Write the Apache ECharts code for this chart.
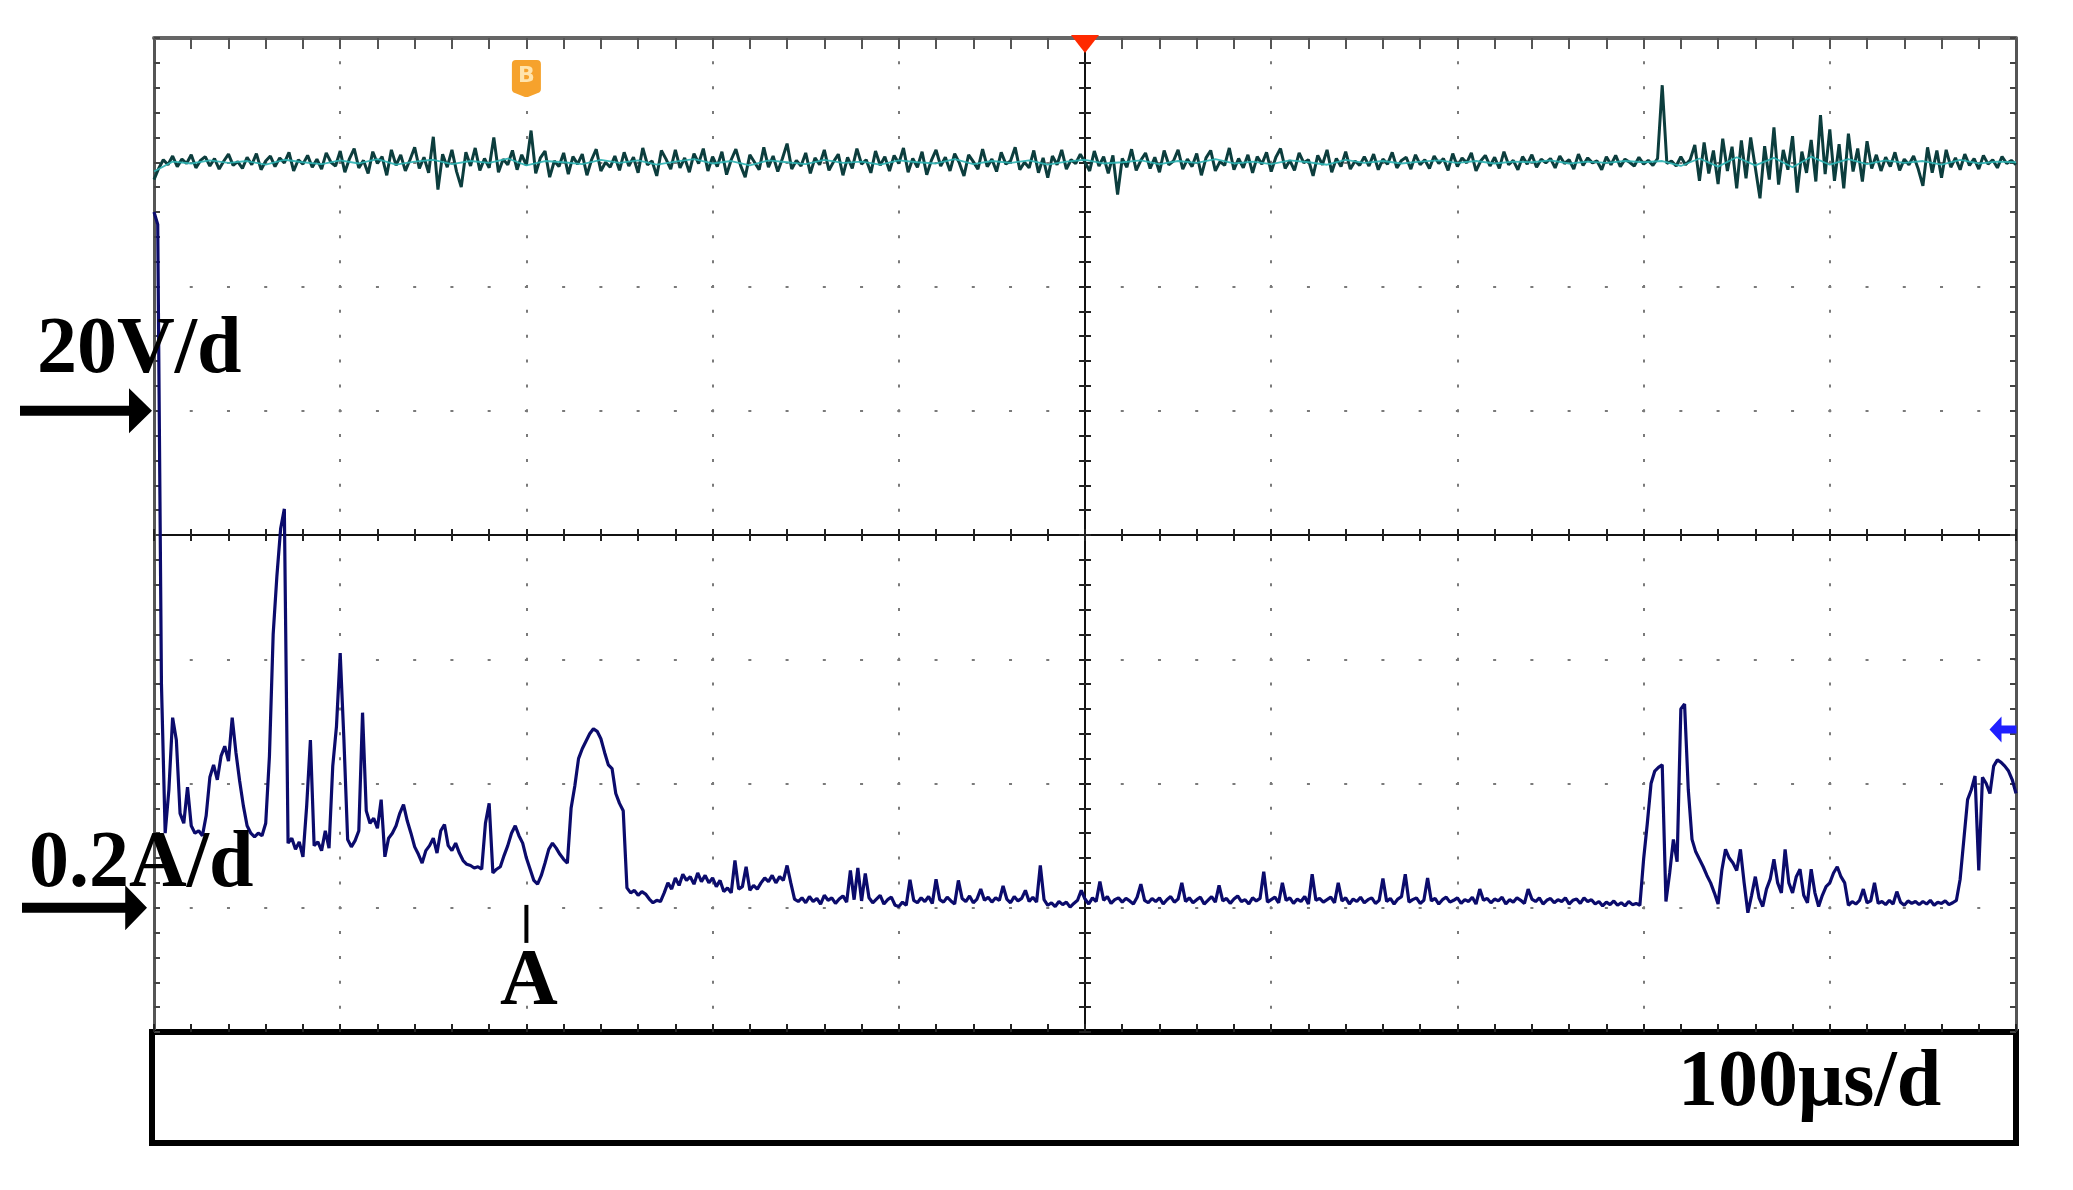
<!DOCTYPE html>
<html>
<head>
<meta charset="utf-8">
<script src="https://cdn.jsdelivr.net/npm/echarts/dist/echarts.min.js"></script>
<style>
  html, body { margin: 0; padding: 0; background: #fff; }
  #chart { width: 2073px; height: 1190px; }
</style>
</head>
<body>
<div id="chart"></div>
<script>
// ---------------- DATA ----------------
// time axis: 10 divisions, 100 us/div
const timeRange = [0, 1000];          // us
const timeTickStep = 100;             // us per division
// channel scales
const voltRange = [-100, 60];         // V  (20 V/div, zero 3 div below top)
const voltTickStep = 20;
const currRange = [-0.2, 1.4];        // A  (0.2 A/div, zero 1 div above bottom)
const currTickStep = 0.2;
const scaleLabels = ['20V/d', '0.2A/d', '100μs/d'];
const markerLabels = ['A', 'B'];

// Voltage trace (V), sampled every 2.5 us from 0 to 1000 us
const voltSampleStep = 2.5;
const voltageValues = [
  37.2, 39.0, 40.4, 39.6, 41.0, 39.3, 40.5, 39.8, 41.2, 39.1,
  40.3, 40.9, 39.4, 40.6, 38.9, 40.2, 41.3, 39.5, 40.1, 39.0,
  40.8, 39.6, 41.4, 38.8, 40.2, 41.0, 39.3, 40.7, 39.9, 41.6,
  38.6, 40.4, 39.7, 41.1, 39.2, 40.5, 38.9, 41.5, 40.0, 39.4,
  41.8, 38.4, 40.6, 42.2, 39.1, 40.3, 38.2, 41.7, 39.8, 40.9,
  37.9, 42.0, 39.5, 41.2, 38.6, 40.4, 42.4, 39.0, 40.8, 38.3,
  44.1, 35.6, 41.3, 39.2, 42.0, 38.5, 36.0, 41.6, 39.4, 42.3,
  38.7, 40.6, 39.1, 44.0, 38.4, 40.5, 39.6, 41.9, 38.8, 41.2,
  39.5, 45.1, 38.2, 40.7, 41.8, 37.6, 40.2, 39.3, 41.5, 38.1,
  40.9, 39.7, 41.3, 37.9, 40.4, 42.1, 38.6, 40.0, 39.2, 41.0,
  38.7, 41.6, 39.4, 40.8, 38.3, 42.3, 39.6, 40.2, 37.8, 41.9,
  40.5, 38.9, 42.0, 39.1, 40.7, 38.4, 41.4, 39.8, 42.2, 38.6,
  40.9, 39.3, 41.7, 38.0, 40.4, 42.1, 39.5, 37.6, 41.2, 40.0,
  38.8, 42.4, 39.2, 41.0, 38.5, 40.6, 43.0, 38.9, 40.3, 39.4,
  41.5, 38.2, 40.7, 39.6, 42.0, 38.7, 40.1, 41.3, 37.9, 40.8,
  39.0, 42.2, 39.7, 40.4, 38.3, 41.8, 39.5, 40.9, 38.6, 41.1,
  39.8, 42.3, 38.4, 40.6, 39.2, 41.7, 38.0, 40.3, 42.0, 39.4,
  40.8, 38.6, 41.4, 39.9, 37.8, 41.2, 40.1, 38.9, 42.1, 39.3,
  40.5, 38.5, 41.6, 39.7, 40.2, 42.4, 38.8, 40.0, 39.1, 41.9,
  38.3, 40.7, 37.5, 41.0, 39.6, 42.0, 38.9, 40.4, 39.8, 41.3,
  40.0, 38.6, 41.8, 39.4, 40.9, 38.2, 41.1, 34.8, 40.6, 39.2,
  42.1, 38.7, 40.3, 41.5, 39.0, 40.8, 38.4, 41.9, 39.6, 40.2,
  42.0, 38.9, 40.5, 39.3, 41.4, 37.9, 40.7, 41.9, 38.6, 40.1,
  39.5, 42.3, 38.8, 40.6, 39.1, 41.2, 38.3, 40.9, 39.7, 41.6,
  38.5, 40.8, 42.2, 39.0, 40.3, 38.7, 41.5, 39.9, 40.4, 37.8,
  41.1, 39.6, 42.0, 38.4, 40.6, 39.3, 41.7, 38.9, 40.2, 39.5,
  40.9, 39.4, 41.3, 38.8, 40.5, 39.7, 41.6, 39.1, 40.3, 40.8,
  38.9, 41.2, 39.6, 40.4, 39.0, 41.0, 39.8, 40.6, 38.7, 41.4,
  39.3, 40.7, 39.9, 41.5, 38.6, 40.2, 41.1, 39.4, 40.8, 39.0,
  41.7, 39.6, 40.3, 38.8, 40.9, 39.7, 41.2, 39.2, 40.5, 39.9,
  40.6, 39.1, 41.0, 39.8, 40.4, 38.9, 41.3, 39.5, 40.7, 39.9,
  40.2, 38.8, 40.9, 39.6, 41.1, 39.3, 40.5, 40.0, 39.4, 40.8,
  39.7, 40.3, 39.5, 40.6, 52.4, 39.8, 40.2, 39.4, 40.9, 39.6,
  40.4, 42.8, 37.0, 43.2, 38.2, 41.9, 36.5, 43.8, 38.6, 42.5,
  35.8, 43.5, 37.4, 44.0, 39.1, 34.2, 42.6, 37.2, 45.6, 36.4,
  42.0, 38.8, 44.2, 35.1, 41.7, 38.3, 43.6, 36.9, 47.6, 38.1,
  45.3, 37.0, 42.9, 35.8, 44.6, 38.5, 42.2, 36.9, 43.4, 39.0,
  41.2, 38.6, 40.8, 39.3, 41.6, 38.7, 40.5, 39.6, 41.0, 38.9,
  36.2, 42.4, 38.3, 41.9, 37.5, 42.0, 39.2, 40.7, 38.8, 41.3,
  39.5, 40.6, 38.9, 41.1, 39.7, 40.4, 39.1, 40.9, 39.8, 40.3,
  39.6
];

// Lighter (cyan) core of the voltage band, every 10 us
const voltCoreStep = 10;
const voltageCoreValues = [
  38.5, 40.1, 39.8, 40.3, 39.9, 40.2, 39.6, 40.4, 40.0, 39.7,
  40.3, 39.8, 40.5, 39.6, 40.1, 40.4, 39.7, 40.2, 39.9, 40.6,
  39.5, 40.2, 40.0, 39.7, 40.4, 39.9, 40.3, 39.6, 40.1, 40.5,
  39.8, 40.2, 39.5, 40.3, 40.0, 39.7, 40.4, 39.9, 40.1, 39.6,
  40.3, 40.0, 39.8, 40.5, 39.7, 40.2, 39.9, 40.3, 39.6, 40.1,
  40.4, 39.8, 40.0, 40.3, 39.7, 40.2, 39.9, 40.5, 39.8, 40.1,
  39.7, 40.3, 40.0, 39.6, 40.4, 39.9, 40.2, 39.8, 40.1, 40.3,
  39.9, 40.2, 39.8, 40.1, 40.0, 40.3, 39.8, 40.1, 39.9, 40.2,
  40.0, 40.2, 39.4, 40.6, 39.3, 40.8, 39.5, 40.7, 39.2, 40.9,
  39.6, 40.5, 39.7, 40.3, 39.9, 40.2, 39.6, 40.4, 39.8, 40.1,
  40.0
];

// Current trace (A), sampled every 2 us from 0 to 1000 us
const currSampleStep = 2;
const currentValues = [
  // 0 - 48
  1.12, 1.10, 0.36, 0.12, 0.19, 0.306, 0.27, 0.152, 0.136, 0.194, 0.132, 0.12, 0.124,
  0.116, 0.148, 0.21, 0.23, 0.206, 0.244, 0.26, 0.236, 0.306, 0.25, 0.204, 0.164,
  // 50 - 98
  0.132, 0.12, 0.114, 0.12, 0.116, 0.136, 0.244, 0.44, 0.534, 0.61, 0.642, 0.104, 0.112,
  0.094, 0.106, 0.082, 0.164, 0.27, 0.1, 0.106, 0.092, 0.124, 0.096, 0.228, 0.292,
  // 100 - 148
  0.41, 0.27, 0.11, 0.098, 0.108, 0.124, 0.314, 0.156, 0.136, 0.144, 0.128, 0.174, 0.082,
  0.112, 0.12, 0.132, 0.152, 0.166, 0.14, 0.12, 0.098, 0.086, 0.072, 0.092, 0.1,
  // 150 - 198
  0.112, 0.088, 0.124, 0.134, 0.1, 0.092, 0.104, 0.088, 0.076, 0.07, 0.068, 0.064, 0.066,
  0.062, 0.136, 0.168, 0.056, 0.062, 0.066, 0.084, 0.1, 0.12, 0.132, 0.116, 0.104,
  // 200 - 248
  0.08, 0.062, 0.044, 0.038, 0.052, 0.072, 0.094, 0.104, 0.096, 0.086, 0.078, 0.072, 0.16,
  0.196, 0.24, 0.256, 0.268, 0.28, 0.288, 0.284, 0.272, 0.25, 0.23, 0.224, 0.184,
  // 250 - 298
  0.168, 0.156, 0.032, 0.024, 0.028, 0.02, 0.026, 0.022, 0.014, 0.008, 0.012, 0.01, 0.024,
  0.04, 0.03, 0.048, 0.036, 0.054, 0.044, 0.05, 0.038, 0.056, 0.042, 0.052, 0.04,
  // 300 - 348
  0.048, 0.034, 0.044, 0.026, 0.032, 0.024, 0.076, 0.03, 0.034, 0.066, 0.028, 0.036, 0.03,
  0.04, 0.048, 0.042, 0.052, 0.04, 0.05, 0.044, 0.068, 0.04, 0.014, 0.01, 0.016,
  // 350 - 398
  0.008, 0.018, 0.01, 0.015, 0.006, 0.02, 0.012, 0.016, 0.007, 0.014, 0.019, 0.009, 0.06,
  0.013, 0.064, 0.011, 0.055, 0.016, 0.008, 0.014, 0.02, 0.006, 0.013, 0.017, 0.004,
  // 400 - 448
  0.002, 0.009, 0.004, 0.045, 0.012, 0.008, 0.016, 0.01, 0.018, 0.007, 0.046, 0.013, 0.009,
  0.017, 0.011, 0.006, 0.044, 0.015, 0.01, 0.019, 0.008, 0.014, 0.03, 0.012, 0.017,
  // 450 - 498
  0.009, 0.016, 0.012, 0.035, 0.014, 0.008, 0.018, 0.011, 0.015, 0.028, 0.01, 0.017, 0.009,
  0.068, 0.013, 0.004, 0.008, 0.002, 0.01, 0.005, 0.009, 0.001, 0.007, 0.012, 0.028,
  // 500 - 548
  0.014, 0.006, 0.016, 0.01, 0.042, 0.012, 0.018, 0.007, 0.013, 0.016, 0.009, 0.015, 0.011,
  0.006, 0.017, 0.038, 0.012, 0.008, 0.015, 0.01, 0.016, 0.006, 0.013, 0.018, 0.009,
  // 550 - 598
  0.014, 0.04, 0.01, 0.016, 0.008, 0.013, 0.017, 0.006, 0.012, 0.018, 0.009, 0.036, 0.011,
  0.015, 0.007, 0.014, 0.019, 0.01, 0.013, 0.006, 0.016, 0.011, 0.015, 0.058, 0.009,
  // 600 - 648
  0.013, 0.017, 0.008, 0.04, 0.012, 0.016, 0.007, 0.014, 0.01, 0.018, 0.006, 0.054, 0.012,
  0.015, 0.009, 0.013, 0.017, 0.008, 0.04, 0.011, 0.016, 0.006, 0.014, 0.01, 0.017,
  // 650 - 698
  0.008, 0.013, 0.016, 0.007, 0.012, 0.047, 0.01, 0.015, 0.006, 0.014, 0.018, 0.054, 0.009,
  0.013, 0.016, 0.007, 0.012, 0.048, 0.011, 0.015, 0.006, 0.013, 0.017, 0.009, 0.012,
  // 700 - 748
  0.016, 0.007, 0.013, 0.01, 0.017, 0.006, 0.03, 0.012, 0.015, 0.008, 0.014, 0.011, 0.017,
  0.006, 0.013, 0.009, 0.016, 0.012, 0.007, 0.03, 0.014, 0.01, 0.016, 0.006, 0.012,
  // 750 - 798
  0.015, 0.008, 0.013, 0.01, 0.016, 0.006, 0.012, 0.014, 0.007, 0.016, 0.01, 0.013, 0.006,
  0.01, 0.003, 0.009, 0.005, 0.011, 0.004, 0.008, 0.003, 0.01, 0.005, 0.007, 0.004,
  // 800 - 848
  0.078, 0.136, 0.2, 0.22, 0.226, 0.23, 0.01, 0.056, 0.11, 0.074, 0.32, 0.328, 0.19,
  0.11, 0.09, 0.078, 0.066, 0.052, 0.04, 0.024, 0.006, 0.06, 0.094, 0.08, 0.072,
  // 850 - 898
  0.06, 0.094, 0.04, -0.008, 0.02, 0.05, 0.016, 0.002, 0.03, 0.046, 0.078, 0.04, 0.024,
  0.094, 0.04, 0.024, 0.05, 0.062, 0.02, 0.008, 0.062, 0.024, 0.002, 0.02, 0.034,
  // 900 - 948
  0.04, 0.056, 0.066, 0.05, 0.04, 0.004, 0.01, 0.006, 0.012, 0.03, 0.008, 0.011, 0.04,
  0.007, 0.01, 0.005, 0.012, 0.006, 0.026, 0.009, 0.004, 0.011, 0.007, 0.01, 0.005,
  // 950 - 998
  0.01, 0.006, 0.012, 0.004, 0.009, 0.007, 0.011, 0.005, 0.008, 0.012, 0.046, 0.11, 0.174,
  0.19, 0.212, 0.06, 0.21, 0.2, 0.184, 0.228, 0.238, 0.234, 0.228, 0.22, 0.206,
  // 1000
  0.184
];

// marker positions (in data units)
const markerATime = 200;    // us
const markerBTime = 200;    // us
const triggerTime = 500;    // us

// ---------------- BUILD ----------------
const toPairs = (vals, step) => vals.map((v, i) => [i * step, v]);
const voltData = toPairs(voltageValues, voltSampleStep);
const voltCoreData = toPairs(voltageCoreValues, voltCoreStep);
const currData = toPairs(currentValues, currSampleStep);

const bigArrow = 'path://M0,17.5 L109,17.5 L109,0 L132,22.5 L109,45 L109,27.5 L0,27.5 Z';
const blueArrow = 'path://M0,13 L12,0 L12,9 L27,9 L27,17 L12,17 L12,26 Z';
const badge = 'path://M4,0 L25,0 Q29,0 29,4 L29,29 Q29,32 26,33 L16,37 L13,37 L3,33 Q0,32 0,29 L0,4 Q0,0 4,0 Z';

const hidden = { show: false };
const gridDotColor = '#7a7a7a';

const option = {
  animation: false,
  backgroundColor: '#ffffff',
  grid: [
    { left: 154, right: 57, top: 38, bottom: 158, containLabel: false, show: false },
    { left: 152, right: 57, top: 1032, height: 111, show: true, borderColor: '#000', borderWidth: 6, backgroundColor: 'rgba(0,0,0,0)' }
  ],
  xAxis: [
    { // 0: time axis, bottom border + dotted vertical grid
      type: 'value', gridIndex: 0, min: timeRange[0], max: timeRange[1], interval: timeTickStep, position: 'bottom',
      axisLine: { show: true, onZero: false, lineStyle: { color: '#000', width: 5 } },
      axisTick: { show: true, inside: true, length: 8, lineStyle: { color: '#222', width: 2 } },
      minorTick: { show: true, splitNumber: 5, length: 8, lineStyle: { color: '#222', width: 2 } },
      axisLabel: hidden,
      splitLine: { show: true, lineStyle: { color: gridDotColor, width: 2, type: [3, 21.85], dashOffset: 1.5 } },
      minorSplitLine: hidden
    },
    { // 1: top border
      type: 'value', gridIndex: 0, min: timeRange[0], max: timeRange[1], interval: timeTickStep, position: 'top',
      axisLine: { show: true, onZero: false, lineStyle: { color: '#666', width: 4 } },
      axisTick: { show: true, inside: true, length: 11, lineStyle: { color: '#555', width: 2 } },
      minorTick: { show: true, splitNumber: 5, length: 11, lineStyle: { color: '#555', width: 2 } },
      axisLabel: hidden, splitLine: hidden
    },
    { // 2: horizontal centre line (division scale), ticks upward
      type: 'value', gridIndex: 0, min: -5, max: 5, interval: 1, position: 'bottom',
      axisLine: { show: true, onZero: true, onZeroAxisIndex: 2, lineStyle: { color: '#111', width: 2 } },
      axisTick: { show: true, inside: true, length: 6, lineStyle: { color: '#222', width: 2 } },
      minorTick: { show: true, splitNumber: 5, length: 6, lineStyle: { color: '#222', width: 2 } },
      axisLabel: hidden, splitLine: hidden
    },
    { // 3: horizontal centre line, ticks downward
      type: 'value', gridIndex: 0, min: -5, max: 5, interval: 1, position: 'top',
      axisLine: { show: true, onZero: true, onZeroAxisIndex: 2, lineStyle: { color: '#111', width: 2 } },
      axisTick: { show: true, inside: true, length: 6, lineStyle: { color: '#222', width: 2 } },
      minorTick: { show: true, splitNumber: 5, length: 6, lineStyle: { color: '#222', width: 2 } },
      axisLabel: hidden, splitLine: hidden
    },
    { type: 'value', gridIndex: 1, min: 0, max: 1, show: false }
  ],
  yAxis: [
    { // 0: voltage, left border + dotted horizontal grid
      type: 'value', gridIndex: 0, min: voltRange[0], max: voltRange[1], interval: voltTickStep, position: 'left',
      axisLine: { show: true, onZero: false, lineStyle: { color: '#555', width: 3 } },
      axisTick: { show: true, inside: true, length: 6, lineStyle: { color: '#444', width: 2 } },
      minorTick: { show: true, splitNumber: 5, length: 6, lineStyle: { color: '#444', width: 2 } },
      axisLabel: hidden,
      splitLine: { show: true, lineStyle: { color: gridDotColor, width: 2, type: [3, 34.24], dashOffset: 1.5 } },
      minorSplitLine: hidden
    },
    { // 1: current, right border
      type: 'value', gridIndex: 0, min: currRange[0], max: currRange[1], interval: currTickStep, position: 'right',
      axisLine: { show: true, onZero: false, lineStyle: { color: '#555', width: 3 } },
      axisTick: { show: true, inside: true, length: 6, lineStyle: { color: '#444', width: 2 } },
      minorTick: { show: true, splitNumber: 5, length: 6, lineStyle: { color: '#444', width: 2 } },
      axisLabel: hidden, splitLine: hidden
    },
    { // 2: vertical centre line, ticks right
      type: 'value', gridIndex: 0, min: -4, max: 4, interval: 1, position: 'left',
      axisLine: { show: true, onZero: true, onZeroAxisIndex: 2, lineStyle: { color: '#111', width: 2 } },
      axisTick: { show: true, inside: true, length: 6, lineStyle: { color: '#222', width: 2 } },
      minorTick: { show: true, splitNumber: 5, length: 6, lineStyle: { color: '#222', width: 2 } },
      axisLabel: hidden, splitLine: hidden
    },
    { // 3: vertical centre line, ticks left
      type: 'value', gridIndex: 0, min: -4, max: 4, interval: 1, position: 'right',
      axisLine: { show: true, onZero: true, onZeroAxisIndex: 2, lineStyle: { color: '#111', width: 2 } },
      axisTick: { show: true, inside: true, length: 6, lineStyle: { color: '#222', width: 2 } },
      minorTick: { show: true, splitNumber: 5, length: 6, lineStyle: { color: '#222', width: 2 } },
      axisLabel: hidden, splitLine: hidden
    },
    { type: 'value', gridIndex: 1, min: 0, max: 1, show: false }
  ],
  series: [
    {
      name: 'voltage', type: 'line', xAxisIndex: 0, yAxisIndex: 0, data: voltData,
      showSymbol: false, symbol: 'none', silent: true, z: 3,
      lineStyle: { color: '#0c3d3d', width: 3 },
      markPoint: {
        silent: true, animation: false,
        data: [
          { coord: [0, 0], symbol: bigArrow, symbolSize: [132, 45], symbolOffset: [-68, 0],
            itemStyle: { color: '#000' }, label: { show: false } },
          { coord: [triggerTime, voltRange[1]], symbol: 'triangle', symbolRotate: 180, symbolSize: [28, 18],
            symbolOffset: [0, 6], itemStyle: { color: '#ff2a00' }, label: { show: false } },
          { coord: [markerBTime, 53.5], symbol: badge, symbolSize: [29, 37],
            itemStyle: { color: '#f6a22c' },
            label: { show: true, position: 'inside', formatter: markerLabels[1], color: '#ffe4ad',
                     fontSize: 22, fontWeight: 'bold', fontFamily: 'DejaVu Sans', offset: [0, -2] } }
        ]
      }
    },
    {
      name: 'voltageCore', type: 'line', xAxisIndex: 0, yAxisIndex: 0, data: voltCoreData,
      showSymbol: false, symbol: 'none', silent: true, z: 4,
      lineStyle: { color: '#2bb3b3', width: 1.8, opacity: 0.9 }
    },
    {
      name: 'current', type: 'line', xAxisIndex: 0, yAxisIndex: 1, data: currData,
      showSymbol: false, symbol: 'none', silent: true, z: 3,
      lineStyle: { color: '#0b0b6c', width: 3.2 },
      markPoint: {
        silent: true, animation: false,
        data: [
          { coord: [0, 0], symbol: bigArrow, symbolSize: [125, 45], symbolOffset: [-69.5, 0],
            itemStyle: { color: '#000' }, label: { show: false } },
          { coord: [markerATime, -0.026], symbol: 'rect', symbolSize: [4, 38],
            itemStyle: { color: '#000' }, label: { show: false } },
          { coord: [timeRange[1], 0.287], symbol: blueArrow, symbolSize: [27, 26], symbolOffset: [-13, 0],
            itemStyle: { color: '#1f1fff' }, label: { show: false } }
        ]
      }
    }
  ],
  graphic: [
    { type: 'text', x: 37, y: 351, z: 100,
      style: { text: scaleLabels[0], font: 'bold 80px "Liberation Serif", "Times New Roman", serif', fill: '#000',
               align: 'left', verticalAlign: 'middle' } },
    { type: 'text', x: 29, y: 865, z: 100,
      style: { text: scaleLabels[1], font: 'bold 80px "Liberation Serif", "Times New Roman", serif', fill: '#000',
               align: 'left', verticalAlign: 'middle' } },
    { type: 'text', x: 1678, y: 1084, z: 100,
      style: { text: scaleLabels[2], font: 'bold 80px "Liberation Serif", "Times New Roman", serif', fill: '#000',
               align: 'left', verticalAlign: 'middle' } },
    { type: 'text', x: 529, y: 983, z: 100,
      style: { text: markerLabels[0], font: 'bold 80px "Liberation Serif", "Times New Roman", serif', fill: '#000',
               align: 'center', verticalAlign: 'middle' } }
  ]
};

const chart = echarts.init(document.getElementById('chart'), null, { renderer: 'canvas' });
chart.setOption(option);
</script>
</body>
</html>
